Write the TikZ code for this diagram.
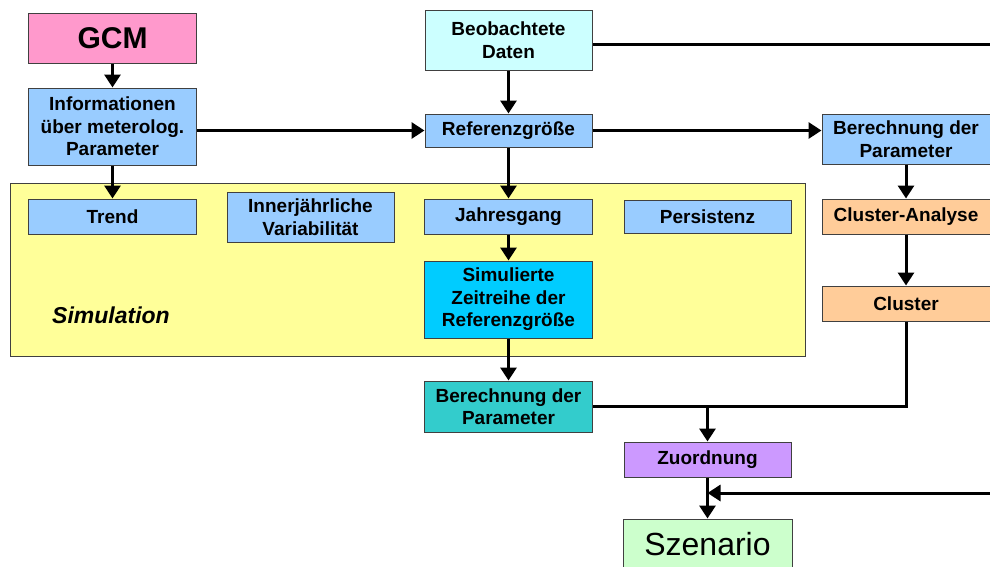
\documentclass[tikz,border=0pt]{standalone}
\usepackage{fontspec}
\setmainfont{Liberation Sans}
\usepackage{tikz}
\usetikzlibrary{arrows.meta,positioning}

\definecolor{cBlue}{HTML}{99CCFF}
\definecolor{cPink}{HTML}{FF99CC}
\definecolor{cIce}{HTML}{CCFFFF}
\definecolor{cCyan}{HTML}{00CCFF}
\definecolor{cTeal}{HTML}{33CCCC}
\definecolor{cPeach}{HTML}{FFCC99}
\definecolor{cLilac}{HTML}{CC99FF}
\definecolor{cMint}{HTML}{CCFFCC}
\definecolor{cYellow}{HTML}{FFFF99}
\definecolor{cEdge}{HTML}{404040}

\begin{document}
\begin{tikzpicture}[x=1pt, y=-1pt, >={Triangle[length=13pt,width=16pt]},
  every node/.style={font=\fontsize{19}{22.5}\selectfont\bfseries},
  proc/.style={draw=cEdge, line width=1pt, fill=cBlue, align=center,
    minimum width=168pt, minimum height=35pt, inner sep=1pt},
  flow/.style={->, line width=3pt},
  wire/.style={line width=3pt}]

  \useasboundingbox (0,0) rectangle (990,566);

  % ===== Simulation frame =====
  \fill[cYellow, draw=cEdge, line width=1pt] (10,183) rectangle (805,356);
  \node[font=\fontsize{23}{26}\selectfont\bfseries\itshape] (simlabel) at (111,315) {Simulation};

  % ===== Left column =====
  \node[proc, fill=cPink, minimum height=50pt, font=\fontsize{30}{32}\selectfont\bfseries] (gcm) at (112.5,38) {GCM};
  \node[proc, minimum height=77pt] (info) at (112.5,126.5) {Informationen\\über meterolog.\\Parameter};
  \node[proc] (trend) at (112.5,216.5) {Trend};
  \node[proc, minimum width=167pt, minimum height=50pt] (inner) at (310.5,217) {Innerjährliche\\Variabilität};

  % ===== Middle column =====
  \node[proc, fill=cIce, minimum width=167pt, minimum height=60pt] (beob) at (508.5,40) {Beobachtete\\Daten};
  \node[proc, minimum width=167pt, minimum height=33pt] (ref) at (508.5,130.5) {Referenzgröße};
  \node[proc] (jahr) at (508.5,216.5) {Jahresgang};
  \node[proc, minimum width=167pt, minimum height=33pt] (pers) at (707.5,216.5) {Persistenz};
  \node[proc, fill=cCyan, minimum height=77pt] (simz) at (508.5,299.5) {Simulierte\\Zeitreihe der\\Referenzgröße};
  \node[proc, fill=cTeal, minimum height=51pt] (berL) at (508.5,406.5) {Berechnung der\\Parameter};
  \node[proc, fill=cLilac, minimum width=167pt] (zuord) at (707.5,459.5) {Zuordnung};
  \node[proc, fill=cMint, minimum width=169pt, minimum height=50pt, font=\fontsize{32}{34}\selectfont] (szen) at (707.5,544) {Szenario};

  % ===== Right column =====
  \node[proc, minimum height=50pt] (berR) at (906,139) {Berechnung der\\Parameter};
  \node[proc, fill=cPeach] (clusA) at (906,216.5) {Cluster-Analyse};
  \node[proc, fill=cPeach] (clus) at (906,303.5) {Cluster};

  \coordinate (eastTop) at (990,44);
  \coordinate (eastBot) at (990,493);
  \coordinate (join) at (zuord.north |- berL.east);

  % ===== Connectors =====
  \draw[flow] (gcm) -- (info);
  \draw[flow] (info) -- (trend);
  \draw[flow] (info.east |- ref.west) -- (ref.west);
  \draw[flow] (beob) -- (ref);
  \draw[flow] (ref.east) -- (ref.east -| berR.west);
  \draw[flow] (ref) -- (jahr);
  \draw[flow] (jahr) -- (simz);
  \draw[flow] (simz) -- (berL);
  \draw[flow] (berR) -- (clusA);
  \draw[flow] (clusA) -- (clus);
  \draw[wire] (clus.south) |- (berL.east);
  \draw[flow] (join) -- (zuord.north);
  \draw[flow] (zuord) -- (szen);
  \draw[wire] (beob.east |- eastTop) -- (eastTop);
  \draw[flow] (eastBot) -- (eastBot -| zuord.south);

\end{tikzpicture}
\end{document}
